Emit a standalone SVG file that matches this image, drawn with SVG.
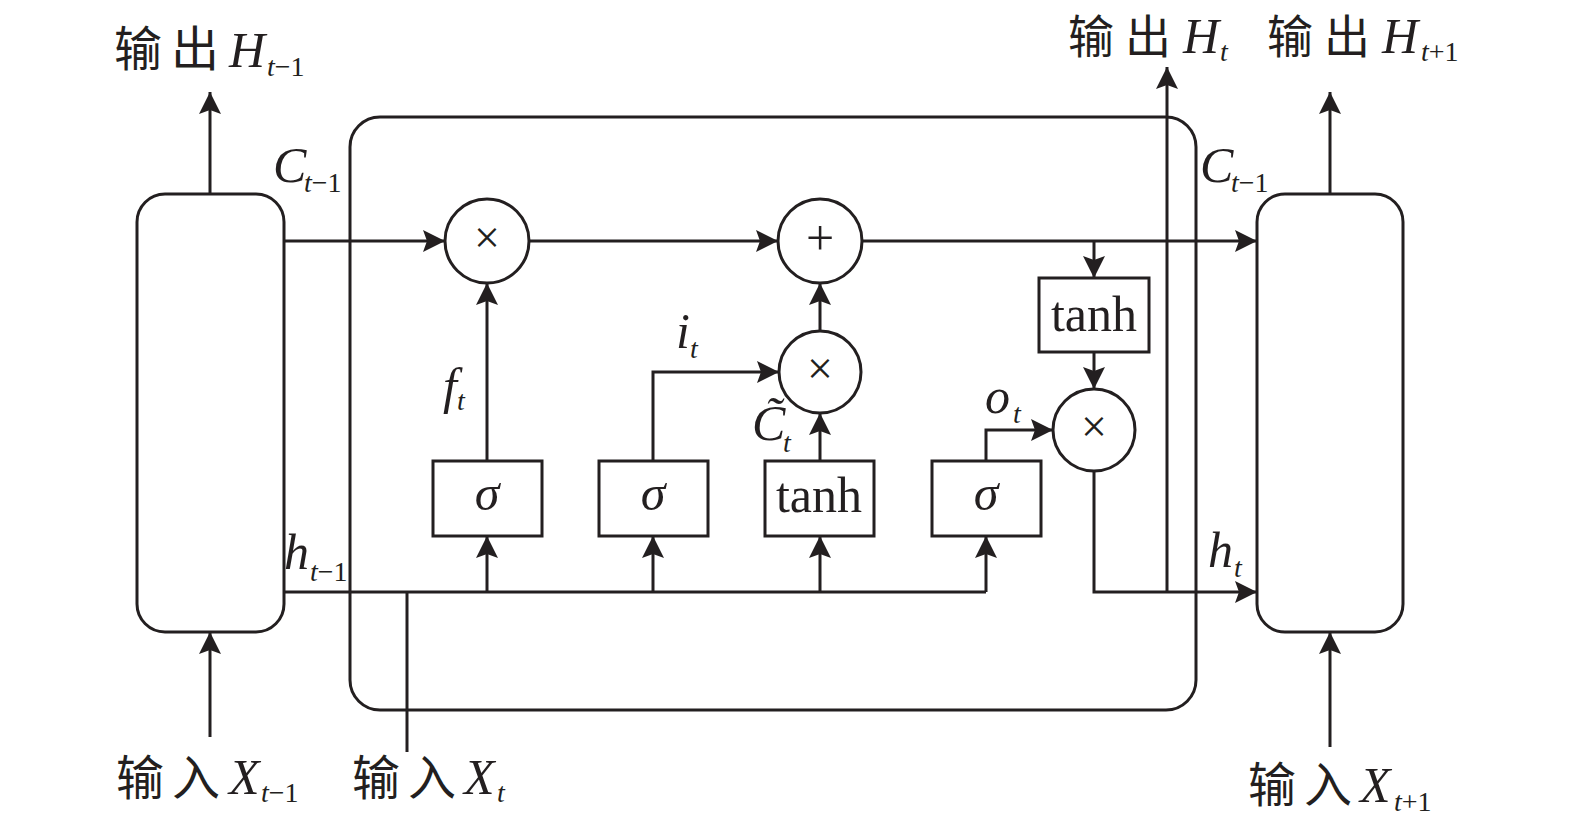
<svg xmlns="http://www.w3.org/2000/svg" width="1575" height="835" viewBox="0 0 1575 835">
<style>
.ln{fill:none;stroke:#231f20;stroke-width:3}
.ar{marker-end:url(#ah)}
.bx{fill:#fff;stroke:#231f20;stroke-width:3}
.cjk{font-family:"Noto Sans CJK SC",sans-serif;font-size:48px;fill:#231f20}
.m{font-family:"Liberation Serif","Times New Roman",serif;font-style:italic;font-size:50px;fill:#231f20}
.s{font-size:28px}
.up{font-style:normal}
.op{font-family:"Liberation Serif","Times New Roman",serif;font-size:46px;fill:#231f20;text-anchor:middle}
.in{font-family:"Liberation Serif","Times New Roman",serif;font-size:50px;fill:#231f20;text-anchor:middle}
</style>
<defs>
<marker id="ah" markerUnits="userSpaceOnUse" markerWidth="24" markerHeight="24" viewBox="0 0 24 24" refX="22" refY="11" orient="auto">
<path d="M0,0 L22,11 L0,22 L4,11 Z" fill="#231f20"/>
</marker>
</defs>
<rect width="1575" height="835" fill="#fff"/>

<g id="cell">
<rect x="350" y="117" width="846" height="593" rx="30" ry="30" class="ln"/>
</g>

<g id="connectors">
<path class="ln ar" d="M210,194 V92"/>
<path class="ln ar" d="M1330,194 V92"/>
<path class="ln ar" d="M210,737 V632"/>
<path class="ln ar" d="M1330,747 V632"/>
<path class="ln" d="M407,752 V592"/>
<path class="ln" d="M284,592 H986"/>
<path class="ln ar" d="M487,592 V536"/>
<path class="ln ar" d="M653,592 V536"/>
<path class="ln ar" d="M820,592 V536"/>
<path class="ln ar" d="M986,592 V536"/>
<path class="ln ar" d="M284,241 H445"/>
<path class="ln ar" d="M529,241 H778"/>
<path class="ln ar" d="M862,241 H1257"/>
<path class="ln ar" d="M1094,241 V278"/>
<path class="ln ar" d="M1094,352 V389"/>
<path class="ln ar" d="M986,461 V430 H1053"/>
<path class="ln ar" d="M1094,471 V592 H1257"/>
<path class="ln ar" d="M1167,592 V67"/>
<path class="ln ar" d="M487,461 V283"/>
<path class="ln ar" d="M653,461 V372 H779"/>
<path class="ln ar" d="M820,461 V413"/>
<path class="ln ar" d="M820,331 V283"/>
</g>

<g id="block_prev"><rect x="137" y="194" width="147" height="438" rx="28" ry="28" class="bx"/></g>
<g id="block_next"><rect x="1257" y="194" width="146" height="438" rx="28" ry="28" class="bx"/></g>

<g id="mul_f"><circle cx="487" cy="241" r="42" class="bx"/><text class="op" x="487" y="253">×</text></g>
<g id="add_c"><circle cx="820" cy="241" r="42" class="bx"/><text class="op" x="820" y="255" style="font-size:50px">+</text></g>
<g id="mul_i"><circle cx="820" cy="372" r="41" class="bx"/><text class="op" x="820" y="384">×</text></g>
<g id="mul_o"><circle cx="1094" cy="430" r="41" class="bx"/><text class="op" x="1094" y="442">×</text></g>

<g id="sig_f"><rect x="433" y="461" width="109" height="75" class="bx"/><text class="in" x="487" y="510" font-style="italic">σ</text></g>
<g id="sig_i"><rect x="599" y="461" width="109" height="75" class="bx"/><text class="in" x="653" y="510" font-style="italic">σ</text></g>
<g id="tanh_c"><rect x="765" y="461" width="109" height="75" class="bx"/><text class="in" x="819" y="512">tanh</text></g>
<g id="sig_o"><rect x="932" y="461" width="109" height="75" class="bx"/><text class="in" x="986" y="510" font-style="italic">σ</text></g>
<g id="tanh_h"><rect x="1039" y="278" width="110" height="74" class="bx"/><text class="in" x="1094" y="331">tanh</text></g>

<g id="labels">
<text class="cjk" x="114 171" y="66">输出</text>
<text class="m" x="229" y="67">H</text><text class="m s" x="267" y="76">t<tspan class="up">−1</tspan></text>

<text class="cjk" x="1068 1125" y="53" style="font-size:46px">输出</text>
<text class="m" x="1183" y="53">H</text><text class="m s" x="1220" y="61">t</text>

<text class="cjk" x="1267 1324" y="53" style="font-size:46px">输出</text>
<text class="m" x="1382" y="53">H</text><text class="m s" x="1421" y="61">t<tspan class="up">+1</tspan></text>

<text class="m" x="273" y="182">C</text><text class="m s" x="304" y="192">t<tspan class="up">−1</tspan></text>
<text class="m" x="1200" y="182">C</text><text class="m s" x="1231" y="192">t<tspan class="up">−1</tspan></text>

<text class="m" x="284" y="569">h</text><text class="m s" x="310" y="581">t<tspan class="up">−1</tspan></text>
<text class="m" x="1208" y="567">h</text><text class="m s" x="1234" y="577">t</text>

<text class="m" x="443" y="403">f</text><text class="m s" x="457" y="410">t</text>
<text class="m" x="676" y="348">i</text><text class="m s" x="690" y="358">t</text>
<text class="m" x="752" y="440">C̃</text><text class="m s" x="783" y="452">t</text>
<text class="m" x="985" y="413">o</text><text class="m s" x="1013" y="423">t</text>

<text class="cjk" x="116 172" y="795">输入</text>
<text class="m" x="229" y="794">X</text><text class="m s" x="261" y="802">t<tspan class="up">−1</tspan></text>

<text class="cjk" x="352 408" y="795">输入</text>
<text class="m" x="464" y="794">X</text><text class="m s" x="497" y="802">t</text>

<text class="cjk" x="1248 1304" y="802">输入</text>
<text class="m" x="1360" y="802">X</text><text class="m s" x="1394" y="811">t<tspan class="up">+1</tspan></text>
</g>
</svg>
